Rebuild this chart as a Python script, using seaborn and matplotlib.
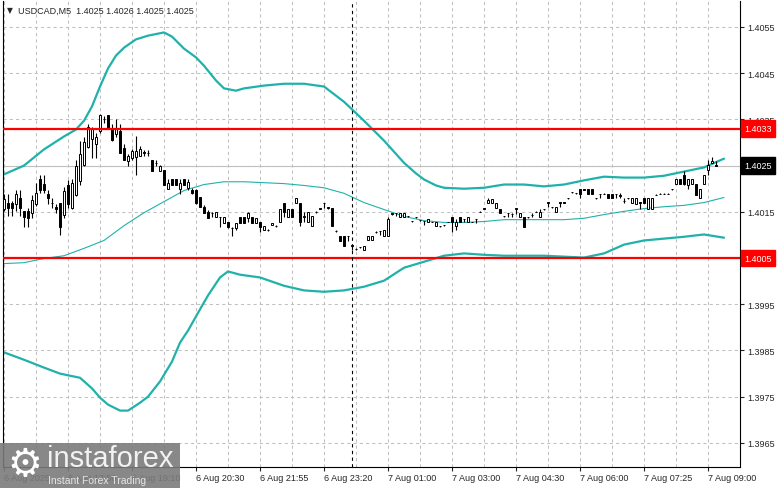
import seaborn as sns
import matplotlib.pyplot as plt
from matplotlib.patches import Rectangle

# USDCAD M5 candles, oldest first
opens = [
    1.40157, 1.40169, 1.40169, 1.40167, 1.40180, 1.40151, 1.40151, 1.40147, 1.40166, 1.40220,
    1.40210, 1.40189, 1.40170, 1.40160, 1.40169, 1.40144, 1.40209, 1.40158, 1.40187, 1.40216,
    1.40251, 1.40290, 1.40307, 1.40297, 1.40324, 1.40350, 1.40360, 1.40331, 1.40318, 1.40324,
    1.40289, 1.40260, 1.40267, 1.40269, 1.40271, 1.40278, 1.40278, 1.40262, 1.40256, 1.40238,
    1.40240, 1.40199, 1.40220, 1.40220, 1.40199, 1.40220, 1.40201, 1.40198, 1.40198, 1.40183,
    1.40161, 1.40150, 1.40148, 1.40138, 1.40138, 1.40126, 1.40128, 1.40114, 1.40116, 1.40138,
    1.40138, 1.40136, 1.40138, 1.40126, 1.40128, 1.40110, 1.40110, 1.40121, 1.40119, 1.40128,
    1.40168, 1.40139, 1.40157, 1.40170, 1.40168, 1.40139, 1.40128, 1.40119, 1.40150, 1.40157,
    1.40168, 1.40159, 1.40159, 1.40108, 1.40097, 1.40097, 1.40097, 1.40077, 1.40070, 1.40073,
    1.40067, 1.40088, 1.40088, 1.40106, 1.40108, 1.40097, 1.40097, 1.40146, 1.40148, 1.40139,
    1.40139, 1.40140, 1.40130, 1.40138, 1.40132, 1.40130, 1.40128, 1.40128, 1.40119, 1.40119,
    1.40121, 1.40128, 1.40139, 1.40119, 1.40139, 1.40135, 1.40128, 1.40128, 1.40135, 1.40150,
    1.40157, 1.40168, 1.40168, 1.40159, 1.40157, 1.40140, 1.40148, 1.40145, 1.40157, 1.40139,
    1.40138, 1.40138, 1.40143, 1.40150, 1.40138, 1.40155, 1.40170, 1.40160, 1.40150, 1.40170,
    1.40170, 1.40179, 1.40192, 1.40190, 1.40199, 1.40198, 1.40199, 1.40199, 1.40179, 1.40189,
    1.40189, 1.40189, 1.40189, 1.40189, 1.40185, 1.40173, 1.40179, 1.40168, 1.40167, 1.40170,
    1.40179, 1.40157, 1.40157, 1.40187, 1.40189, 1.40189, 1.40189, 1.40199, 1.40211, 1.40221,
    1.40230, 1.40209, 1.40211, 1.40211, 1.40179, 1.40211, 1.40241, 1.40256, 1.40250,
]
highs = [
    1.40189, 1.40189, 1.40173, 1.40198, 1.40198, 1.40151, 1.40158, 1.40187, 1.40213, 1.40229,
    1.40229, 1.40198, 1.40180, 1.40166, 1.40169, 1.40203, 1.40218, 1.40220, 1.40263, 1.40303,
    1.40311, 1.40340, 1.40334, 1.40321, 1.40361, 1.40358, 1.40360, 1.40340, 1.40350, 1.40340,
    1.40296, 1.40274, 1.40285, 1.40313, 1.40293, 1.40284, 1.40284, 1.40262, 1.40262, 1.40252,
    1.40240, 1.40220, 1.40220, 1.40220, 1.40220, 1.40220, 1.40220, 1.40201, 1.40199, 1.40183,
    1.40165, 1.40154, 1.40150, 1.40150, 1.40138, 1.40138, 1.40128, 1.40117, 1.40126, 1.40138,
    1.40138, 1.40150, 1.40138, 1.40136, 1.40128, 1.40119, 1.40112, 1.40126, 1.40121, 1.40157,
    1.40168, 1.40157, 1.40157, 1.40179, 1.40168, 1.40150, 1.40150, 1.40140, 1.40152, 1.40159,
    1.40168, 1.40160, 1.40159, 1.40110, 1.40097, 1.40097, 1.40097, 1.40077, 1.40071, 1.40074,
    1.40077, 1.40097, 1.40097, 1.40108, 1.40108, 1.40110, 1.40139, 1.40148, 1.40148, 1.40148,
    1.40148, 1.40141, 1.40131, 1.40139, 1.40133, 1.40130, 1.40135, 1.40129, 1.40128, 1.40120,
    1.40122, 1.40129, 1.40139, 1.40135, 1.40139, 1.40135, 1.40139, 1.40129, 1.40135, 1.40151,
    1.40158, 1.40179, 1.40177, 1.40170, 1.40157, 1.40141, 1.40148, 1.40148, 1.40157, 1.40148,
    1.40138, 1.40139, 1.40148, 1.40151, 1.40155, 1.40156, 1.40170, 1.40161, 1.40160, 1.40170,
    1.40171, 1.40180, 1.40193, 1.40191, 1.40199, 1.40199, 1.40199, 1.40199, 1.40180, 1.40189,
    1.40190, 1.40189, 1.40189, 1.40189, 1.40190, 1.40179, 1.40180, 1.40179, 1.40179, 1.40170,
    1.40179, 1.40179, 1.40179, 1.40188, 1.40190, 1.40190, 1.40190, 1.40200, 1.40220, 1.40221,
    1.40238, 1.40221, 1.40221, 1.40211, 1.40199, 1.40230, 1.40263, 1.40269, 1.40260,
]
lows = [
    1.40151, 1.40140, 1.40140, 1.40151, 1.40140, 1.40118, 1.40118, 1.40137, 1.40162, 1.40191,
    1.40191, 1.40167, 1.40158, 1.40147, 1.40100, 1.40137, 1.40158, 1.40155, 1.40184, 1.40209,
    1.40249, 1.40289, 1.40267, 1.40267, 1.40321, 1.40343, 1.40329, 1.40303, 1.40311, 1.40278,
    1.40263, 1.40249, 1.40263, 1.40230, 1.40271, 1.40271, 1.40271, 1.40238, 1.40250, 1.40238,
    1.40209, 1.40199, 1.40209, 1.40209, 1.40189, 1.40209, 1.40198, 1.40189, 1.40167, 1.40160,
    1.40147, 1.40136, 1.40138, 1.40138, 1.40117, 1.40126, 1.40116, 1.40097, 1.40110, 1.40126,
    1.40126, 1.40128, 1.40126, 1.40126, 1.40106, 1.40110, 1.40108, 1.40121, 1.40117, 1.40128,
    1.40139, 1.40139, 1.40139, 1.40170, 1.40119, 1.40128, 1.40128, 1.40119, 1.40148, 1.40155,
    1.40159, 1.40157, 1.40119, 1.40106, 1.40086, 1.40077, 1.40086, 1.40067, 1.40068, 1.40072,
    1.40067, 1.40088, 1.40088, 1.40104, 1.40099, 1.40097, 1.40097, 1.40144, 1.40140, 1.40139,
    1.40139, 1.40139, 1.40129, 1.40137, 1.40131, 1.40121, 1.40128, 1.40127, 1.40119, 1.40118,
    1.40120, 1.40127, 1.40106, 1.40110, 1.40128, 1.40128, 1.40128, 1.40127, 1.40126, 1.40149,
    1.40156, 1.40168, 1.40168, 1.40159, 1.40148, 1.40139, 1.40139, 1.40139, 1.40146, 1.40139,
    1.40117, 1.40137, 1.40139, 1.40149, 1.40138, 1.40154, 1.40160, 1.40159, 1.40150, 1.40160,
    1.40169, 1.40178, 1.40191, 1.40189, 1.40179, 1.40197, 1.40189, 1.40189, 1.40178, 1.40179,
    1.40188, 1.40179, 1.40179, 1.40179, 1.40179, 1.40168, 1.40178, 1.40168, 1.40167, 1.40155,
    1.40168, 1.40157, 1.40157, 1.40186, 1.40188, 1.40188, 1.40188, 1.40198, 1.40211, 1.40211,
    1.40209, 1.40199, 1.40211, 1.40187, 1.40179, 1.40211, 1.40230, 1.40256, 1.40250,
]
closes = [
    1.40178, 1.40158, 1.40158, 1.40189, 1.40158, 1.40138, 1.40137, 1.40176, 1.40191, 1.40198,
    1.40198, 1.40179, 1.40169, 1.40155, 1.40118, 1.40196, 1.40166, 1.40213, 1.40249, 1.40274,
    1.40300, 1.40334, 1.40329, 1.40311, 1.40360, 1.40350, 1.40331, 1.40305, 1.40332, 1.40278,
    1.40263, 1.40271, 1.40282, 1.40282, 1.40285, 1.40278, 1.40277, 1.40238, 1.40256, 1.40250,
    1.40209, 1.40212, 1.40209, 1.40209, 1.40212, 1.40209, 1.40214, 1.40190, 1.40168, 1.40161,
    1.40148, 1.40136, 1.40148, 1.40150, 1.40138, 1.40138, 1.40117, 1.40114, 1.40126, 1.40126,
    1.40126, 1.40148, 1.40126, 1.40136, 1.40117, 1.40119, 1.40110, 1.40126, 1.40119, 1.40157,
    1.40150, 1.40157, 1.40139, 1.40179, 1.40128, 1.40140, 1.40150, 1.40140, 1.40150, 1.40157,
    1.40168, 1.40159, 1.40119, 1.40108, 1.40086, 1.40077, 1.40097, 1.40077, 1.40070, 1.40073,
    1.40077, 1.40097, 1.40097, 1.40106, 1.40108, 1.40110, 1.40135, 1.40146, 1.40148, 1.40148,
    1.40148, 1.40140, 1.40130, 1.40138, 1.40132, 1.40130, 1.40135, 1.40128, 1.40128, 1.40119,
    1.40121, 1.40128, 1.40128, 1.40128, 1.40128, 1.40135, 1.40139, 1.40128, 1.40135, 1.40150,
    1.40157, 1.40176, 1.40177, 1.40170, 1.40148, 1.40140, 1.40148, 1.40145, 1.40157, 1.40148,
    1.40117, 1.40138, 1.40143, 1.40150, 1.40150, 1.40155, 1.40170, 1.40160, 1.40160, 1.40170,
    1.40170, 1.40179, 1.40192, 1.40190, 1.40189, 1.40198, 1.40189, 1.40189, 1.40179, 1.40189,
    1.40189, 1.40179, 1.40179, 1.40189, 1.40185, 1.40173, 1.40179, 1.40179, 1.40179, 1.40170,
    1.40168, 1.40179, 1.40179, 1.40187, 1.40189, 1.40189, 1.40189, 1.40199, 1.40220, 1.40211,
    1.40211, 1.40221, 1.40221, 1.40187, 1.40199, 1.40230, 1.40252, 1.40260, 1.40250,
]

# Bollinger bands at these bar numbers
upper_bars = [0, 5, 10, 15, 18, 20, 22, 24, 26, 28, 30, 33, 36, 40, 42, 45, 48, 50, 53, 55,
              58, 60, 65, 70, 75, 80, 85, 90, 95, 100, 103, 105, 108, 110, 115, 120, 125, 130,
              135, 140, 145, 150, 155, 160, 165, 170, 175, 180]
upper_band = [
    1.40231, 1.40250, 1.40285, 1.40313, 1.40328, 1.40347, 1.40378, 1.40421, 1.40460, 1.40488,
    1.40505, 1.40523, 1.40531, 1.40538, 1.40529, 1.40503, 1.40484, 1.40466, 1.40434, 1.40417,
    1.40412, 1.40417, 1.40423, 1.40427, 1.40427, 1.40421, 1.40388, 1.40347, 1.40304, 1.40256,
    1.40233, 1.40220, 1.40207, 1.40202, 1.40200, 1.40202, 1.40209, 1.40209, 1.40205, 1.40209,
    1.40218, 1.40226, 1.40224, 1.40224, 1.40228, 1.40237, 1.40246, 1.40265,
]
middle_bars = list(range(0, 181, 5))
middle_band = [
    1.40038, 1.40040, 1.40049, 1.40055, 1.40071, 1.40088, 1.40120, 1.40148, 1.40172, 1.40196,
    1.40209, 1.40215, 1.40215, 1.40213, 1.40211, 1.40207, 1.40202, 1.40190, 1.40170, 1.40155,
    1.40140, 1.40131, 1.40127, 1.40127, 1.40129, 1.40133, 1.40133, 1.40133, 1.40133, 1.40136,
    1.40144, 1.40151, 1.40157, 1.40161, 1.40164, 1.40170, 1.40181,
]
lower_bars = [0, 5, 10, 14, 19, 22, 24, 26, 29, 31, 34, 36, 39, 42, 44, 46, 49, 51, 54, 56,
              59, 64, 70, 75, 80, 85, 90, 95, 100, 105, 110, 115, 120, 125, 130, 135, 140,
              145, 150, 155, 160, 165, 170, 175, 180]
lower_band = [
    1.39846, 1.39830, 1.39813, 1.39800, 1.39791, 1.39768, 1.39748, 1.39733, 1.39720, 1.39720,
    1.39737, 1.39750, 1.39783, 1.39826, 1.39867, 1.39893, 1.39939, 1.39969, 1.40008, 1.40021,
    1.40014, 1.40008, 1.39990, 1.39980, 1.39977, 1.39980, 1.39988, 1.40001, 1.40029, 1.40042,
    1.40055, 1.40060, 1.40057, 1.40055, 1.40055, 1.40055, 1.40053, 1.40051, 1.40060, 1.40079,
    1.40088, 1.40092, 1.40096, 1.40101, 1.40094,
]

time_labels = ["6 Aug 2025", "6 Aug 17:50", "6 Aug 19:10", "6 Aug 20:30", "6 Aug 21:55",
               "6 Aug 23:20", "7 Aug 01:00", "7 Aug 03:00", "7 Aug 04:30", "7 Aug 06:00",
               "7 Aug 07:25", "7 Aug 09:00"]
price_ticks = [1.3965, 1.3975, 1.3985, 1.3995, 1.4005, 1.4015, 1.4025, 1.4035, 1.4045, 1.4055]
resistance = 1.4033
support = 1.4005
last_price = 1.4025
title_text = "USDCAD,M5  1.4025 1.4026 1.4025 1.4025"

sns.set_style("white")
plt.rcParams['font.family'] = ['Liberation Sans', 'DejaVu Sans']

teal = "#20b2aa"
W, H = 781, 489
fig = plt.figure(figsize=(W / 100, H / 100), dpi=100)
ax = fig.add_axes([3 / W, 21 / H, 737 / W, 466 / H])

# bands
sns.lineplot(x=upper_bars, y=upper_band, ax=ax, color=teal, linewidth=1.6, zorder=2)
sns.lineplot(x=middle_bars, y=middle_band, ax=ax, color=teal, linewidth=0.8, zorder=2)
sns.lineplot(x=lower_bars, y=lower_band, ax=ax, color=teal, linewidth=1.6, zorder=2)

# candles
idx = list(range(len(closes)))
ax.vlines(idx, lows, highs, color="black", linewidth=0.8, zorder=3)
bottoms = [min(o, c) for o, c in zip(opens, closes)]
heights = [max(abs(c - o), 0.000004) for o, c in zip(opens, closes)]
fills = ["white" if c > o else "black" for o, c in zip(opens, closes)]
ax.bar(idx, heights, bottom=bottoms, width=0.55, color=fills, edgecolor="black",
       linewidth=0.7, zorder=3.1)

# levels
ax.axhline(last_price, color="#c0c0c0", linewidth=0.8, zorder=1)
ax.axhline(resistance, color="#ff0000", linewidth=1.6, zorder=4)
ax.axhline(support, color="#ff0000", linewidth=1.6, zorder=4)
ax.axvline(87, color="black", linewidth=0.8, linestyle=(0, (3, 3)), zorder=4)

ax.set_xlim(-0.25, 184)
ax.set_ylim(1.39598, 1.40606)

ax.yaxis.tick_right()
ax.set_yticks(price_ticks)
ax.set_yticklabels([f"{p:.4f}" for p in price_ticks])
ax.set_xticks(list(range(0, 177, 16)))
ax.set_xticklabels(time_labels)
for lbl in ax.get_xticklabels():
    lbl.set_ha("left")
ax.set_xticks(list(range(8, 184, 16)), minor=True)
ax.tick_params(axis="y", which="major", direction="out", length=3, width=0.8,
               labelsize=6.5, pad=2, right=True, left=False)
ax.tick_params(axis="x", which="major", direction="out", length=3, width=0.8,
               labelsize=6.5, pad=1.5, bottom=True)
ax.tick_params(axis="x", which="minor", length=0)
ax.grid(True, which="both", color="#c0c0c0", linestyle=(0, (3, 3)), linewidth=0.75)
ax.set_axisbelow(True)
ax.set_xlabel("")
ax.set_ylabel("")

for side in ["left", "right", "bottom"]:
    ax.spines[side].set_visible(True)
    ax.spines[side].set_color("black")
    ax.spines[side].set_linewidth(0.8)
ax.spines["top"].set_visible(False)

# price boxes on the right scale
for price, box in [(resistance, "#ff0000"), (support, "#ff0000"), (last_price, "black")]:
    ax.annotate(f"{price:.4f}", xy=(1, price), xycoords=("axes fraction", "data"),
                xytext=(3, 0), textcoords="offset points", ha="left", va="center",
                fontsize=6.5, color="white", annotation_clip=False, zorder=6,
                bbox=dict(boxstyle="square,pad=0.4", fc=box, ec=box))

# header
fig.text(7 / W, 1 - 11 / H, "\u25bc", fontsize=5.5, va="center", family="DejaVu Sans")
fig.text(18 / W, 1 - 11 / H, title_text, fontsize=6.5, va="center")

# watermark
fig.add_artist(Rectangle((0, 0), 180 / W, 45 / H, transform=fig.transFigure,
                         facecolor="#7b7b7b", edgecolor="none", alpha=0.9, zorder=10))
fig.text(25 / W, 24 / H, "\u2699", fontsize=28, color="white", ha="center", va="center",
         family="DejaVu Sans", zorder=11)
fig.text(47 / W, 22 / H, "instaforex", fontsize=21, color="#f2f2f2", va="baseline", zorder=11)
fig.text(48 / W, 5 / H, "Instant Forex Trading", fontsize=7.5, color="#e6e6e6",
         va="baseline", zorder=11)

fig.savefig("out.png", dpi=100)
